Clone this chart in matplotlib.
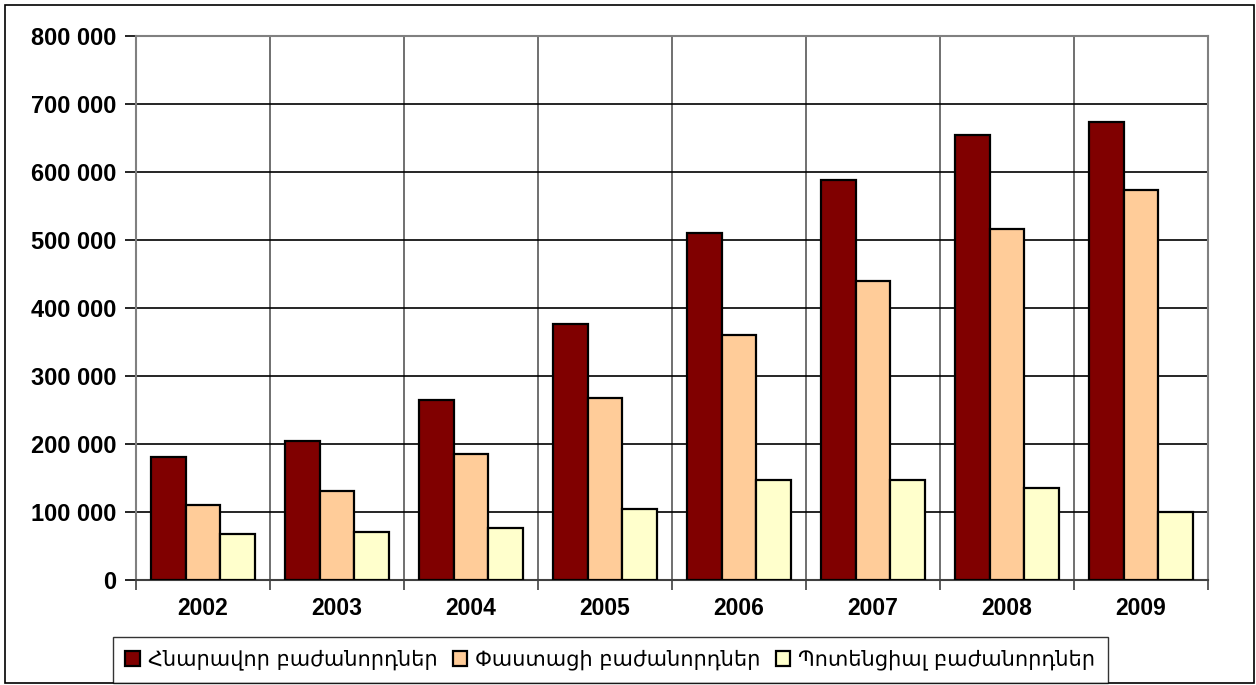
import numpy as np
import matplotlib
matplotlib.use("Agg")
import matplotlib.pyplot as plt
from matplotlib.patches import Rectangle

years = ["2002", "2003", "2004", "2005", "2006", "2007", "2008", "2009"]
possible = [182000, 205000, 265000, 377000, 511000, 588000, 655000, 674000]
actual = [110000, 131000, 185000, 268000, 360000, 440000, 517000, 574000]
potential = [68000, 71000, 77000, 105000, 148000, 148000, 136000, 100000]
series_names = ["Հնարավոր բաժանորդներ", "Փաստացի բաժանորդներ", "Պոտենցիալ բաժանորդներ"]
colors = ["#800000", "#FFCC99", "#FFFFCC"]
yticks = [0, 100000, 200000, 300000, 400000, 500000, 600000, 700000, 800000]

plt.rcParams['font.family'] = ['Liberation Sans', 'DejaVu Sans']

fig = plt.figure(figsize=(12.56, 6.85), dpi=100)
ax = fig.add_axes([136/1256, 1-580.3/685, (1208-136)/1256, (580.3-36.3)/685])

x = np.arange(len(years))
w = 0.26
for i, vals in enumerate([possible, actual, potential]):
    ax.bar(x + (i-1)*w, vals, w, color=colors[i], edgecolor="black",
           linewidth=1.6, label=series_names[i], zorder=3)

ax.set_xlim(-0.5, len(years)-0.5)
ax.set_ylim(0, 800000)
ax.set_yticks(yticks)
ax.set_yticklabels([f"{v:,}".replace(",", " ") for v in yticks],
                   fontsize=17, fontweight="bold")
ax.set_xticks(x)
ax.set_xticklabels(years, fontsize=16.5, fontweight="bold")
ax.set_xticks(np.arange(-0.5, len(years)), minor=True)
ax.tick_params(axis="x", which="major", length=0, pad=12)
ax.tick_params(axis="x", which="minor", length=7, width=1.2, color="#404040")
ax.tick_params(axis="y", length=8, width=1.2, pad=6)
ax.yaxis.grid(True, color="black", linewidth=1.2, zorder=0)
ax.xaxis.grid(True, which="minor", color="#707070", linewidth=1.4, zorder=0)
for s in ax.spines.values():
    s.set_color("#808080")
    s.set_linewidth(1.5)
ax.spines["bottom"].set_color("#404040")

leg = fig.legend(loc="center", bbox_to_anchor=(0.486, 0.0365), ncol=3,
                 prop={"family": "DejaVu Sans", "size": 15}, frameon=True,
                 fancybox=False, edgecolor="black", handlelength=0.7,
                 handleheight=0.7, handletextpad=0.4, columnspacing=0.7,
                 borderpad=0.6)
leg.get_frame().set_linewidth(1.0)

fig.patches.append(Rectangle((5/1256, 2/685), 1249/1256, 678/685,
                             transform=fig.transFigure, fill=False,
                             edgecolor="black", linewidth=1.2))

fig.savefig("out.png", dpi=100)
